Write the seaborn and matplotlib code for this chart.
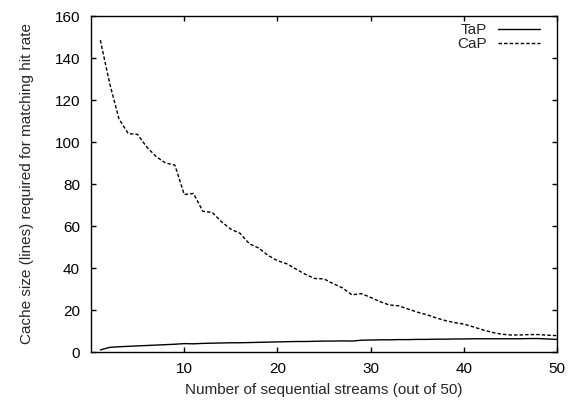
import matplotlib
matplotlib.use("Agg")
import matplotlib.pyplot as plt
import seaborn as sns
import pandas as pd

streams = list(range(1, 51))
tap = [1.0, 2.2, 2.5, 2.7, 2.9, 3.1, 3.3, 3.5, 3.7, 4.0,
       3.9, 4.1, 4.2, 4.3, 4.4, 4.4, 4.5, 4.6, 4.7, 4.8,
       4.9, 5.0, 5.0, 5.1, 5.2, 5.2, 5.3, 5.2, 5.6, 5.7,
       5.8, 5.8, 5.9, 5.9, 6.0, 6.0, 6.1, 6.1, 6.2, 6.2,
       6.3, 6.3, 6.3, 6.3, 6.3, 6.3, 6.4, 6.4, 6.2, 6.0]
cap = [148.5, 128.0, 111.0, 104.0, 103.6, 97.5, 93.0, 90.0, 89.0, 75.0,
       75.5, 67.0, 66.5, 62.0, 58.5, 56.5, 51.5, 49.5, 46.0, 43.5,
       42.0, 39.5, 37.0, 35.0, 34.8, 32.5, 30.5, 27.2, 27.8, 26.0,
       24.0, 22.4, 22.0, 20.5, 19.0, 17.8, 16.3, 15.0, 14.0, 13.3,
       12.0, 10.6, 9.4, 8.5, 8.1, 8.1, 8.3, 8.3, 8.0, 7.8]
series_names = ["TaP", "CaP"]
x_ticks = [10, 20, 30, 40, 50]
y_ticks = list(range(0, 161, 20))

df = pd.DataFrame({
    "x": streams * 2,
    "y": tap + cap,
    "series": [series_names[0]] * len(streams) + [series_names[1]] * len(streams),
})

sns.set_style("ticks")
plt.rcParams["font.family"] = ["Liberation Sans", "DejaVu Sans"]
plt.rcParams["xtick.direction"] = "in"
plt.rcParams["ytick.direction"] = "in"

FS = 11

fig = plt.figure(figsize=(5.71, 4.0), dpi=100)
ax = fig.add_axes([91 / 571, 48 / 400, (557 - 91) / 571, (352 - 16) / 400])

sns.lineplot(data=df, x="x", y="y", hue="series", style="series",
             palette={"TaP": "black", "CaP": "black"},
             dashes={"TaP": "", "CaP": (2.5, 1.5)},
             linewidth=1.0, ax=ax)

ax.set_xlim(0, 50)
ax.set_ylim(0, 160)
ax.set_xticks(x_ticks)
ax.set_yticks(y_ticks)
ax.tick_params(axis="both", which="both", top=True, right=True,
               length=3.6, width=1, labelsize=FS, colors="black")
ax.tick_params(axis="x", pad=7)
ax.tick_params(axis="y", pad=8)
for s in ax.spines.values():
    s.set_linewidth(1.0)
    s.set_color("black")

ax.set_xlabel("Number of sequential streams (out of 50)", fontsize=FS, labelpad=5)
ax.set_ylabel("Cache size (lines) required for matching hit rate", fontsize=FS, labelpad=15)

leg = ax.legend(loc="upper right", frameon=False, markerfirst=False,
                fontsize=FS, handlelength=2.75, handletextpad=0.7,
                borderpad=0, borderaxespad=0, labelspacing=0.0,
                bbox_to_anchor=(540 / 571, 377 / 400),
                bbox_transform=fig.transFigure, title=None)

fig.savefig("out.png", dpi=100)
